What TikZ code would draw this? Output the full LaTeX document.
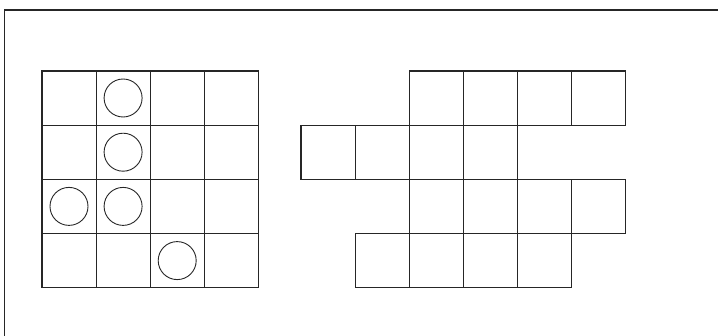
\documentclass[tikz,border=0pt]{standalone}
\begin{document}
\begin{tikzpicture}[x=1pt,y=-1pt,
  gridline/.style={draw=black!85,line width=1.1pt},
  frameline/.style={draw=black!85,line width=1.1pt},
  token/.style={draw=black!85,line width=0.9pt}]
\useasboundingbox (0,0) rectangle (718,336);
% frame
\draw[frameline] (4.5,336) -- (4.5,10) -- (718,10);
% left 4x4 grid
\foreach \r in {0,...,3}{
  \foreach \c in {0,...,3}{
    \draw[gridline] ({42+54.1*\c},{71+54.2*\r}) rectangle ++(54.1,54.2);
  }
}
% tokens
\foreach \c/\r in {1/0,1/1,0/2,1/2,2/3}{
  \draw[token] ({42+54.1*\c+27},{71+54.2*\r+27}) circle (19);
}
% right shape
\foreach \c/\r in {2/0,3/0,4/0,5/0, 0/1,1/1,2/1,3/1, 2/2,3/2,4/2,5/2, 1/3,2/3,3/3,4/3}{
  \draw[gridline] ({301+54.1*\c},{71+54.2*\r}) rectangle ++(54.1,54.2);
}
\end{tikzpicture}
\end{document}
